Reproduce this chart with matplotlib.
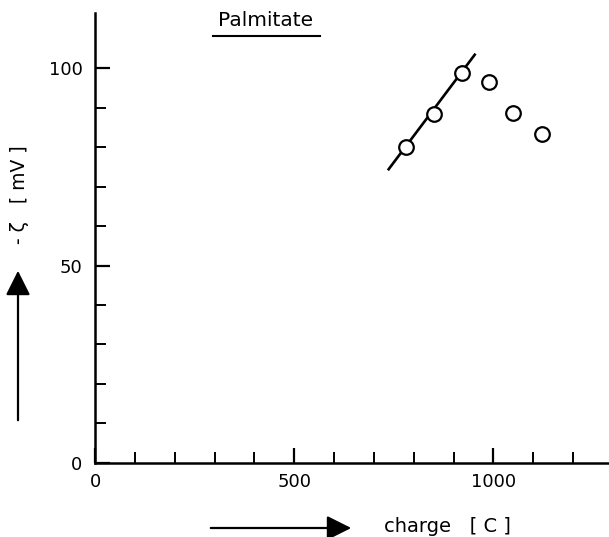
import matplotlib
matplotlib.use("Agg")
import matplotlib.pyplot as plt
from matplotlib.lines import Line2D
from matplotlib.patches import FancyArrowPatch

# measured points (charge in C, -zeta in mV)
charge = [780, 850, 920, 990, 1050, 1122]
zeta = [80.0, 88.5, 98.7, 96.4, 88.6, 83.3]

# straight line through the first three points
fit_charge = [737, 953]
fit_zeta = [74.4, 103.4]

xticks = [0, 500, 1000]
yticks = [0, 50, 100]
xminor = [100, 200, 300, 400, 600, 700, 800, 900, 1100, 1200]
yminor = [10, 20, 30, 40, 60, 70, 80, 90]

plt.rcParams['font.family'] = ['DejaVu Sans']

fig = plt.figure(figsize=(6.09, 5.37), dpi=100)
ax = fig.add_axes([0.156, 0.138, 0.844, 0.838])

ax.plot(fit_charge, fit_zeta, '-', color='black', lw=1.9, zorder=2)
ax.plot(charge, zeta, 'o', ms=10.5, mfc='white', mec='black', mew=1.6, zorder=3)

ax.set_xlim(0, 1290)
ax.set_ylim(0, 114)

for s in ['top', 'right']:
    ax.spines[s].set_visible(False)
for s in ['left', 'bottom']:
    ax.spines[s].set_linewidth(1.8)

ax.set_xticks(xticks)
ax.set_yticks(yticks)
ax.set_xticks(xminor, minor=True)
ax.set_yticks(yminor, minor=True)
ax.tick_params(which='major', direction='in', length=11, width=1.6, labelsize=13, pad=7)
ax.tick_params(which='minor', direction='in', length=8, width=1.4)
ax.tick_params(axis='y', which='major', pad=9)

# title with underline
fig.text(266 / 609, 1 - 21 / 537, 'Palmitate', fontsize=14.5, ha='center', va='center')
fig.add_artist(Line2D([213 / 609, 320 / 609], [1 - 36 / 537, 1 - 36 / 537],
                      color='black', lw=1.5))

# y label with arrow
fig.text(20 / 609, 1 - 195 / 537, '- ζ   [ mV ]', fontsize=13.5, rotation=90,
         ha='center', va='center')
fig.add_artist(FancyArrowPatch(
    (18 / 609, 1 - 423 / 537), (18 / 609, 1 - 268 / 537),
    transform=fig.transFigure, arrowstyle='-|>,head_length=10,head_width=5',
    color='black', lw=1.6, mutation_scale=1.5))

# x label with arrow
fig.text(447 / 609, 1 - 527 / 537, 'charge   [ C ]', fontsize=14,
         ha='center', va='center')
fig.add_artist(FancyArrowPatch(
    (208 / 609, 1 - 528 / 537), (354 / 609, 1 - 528 / 537),
    transform=fig.transFigure, arrowstyle='-|>,head_length=10,head_width=5',
    color='black', lw=1.6, mutation_scale=1.5))

fig.savefig('out.png', dpi=100)
